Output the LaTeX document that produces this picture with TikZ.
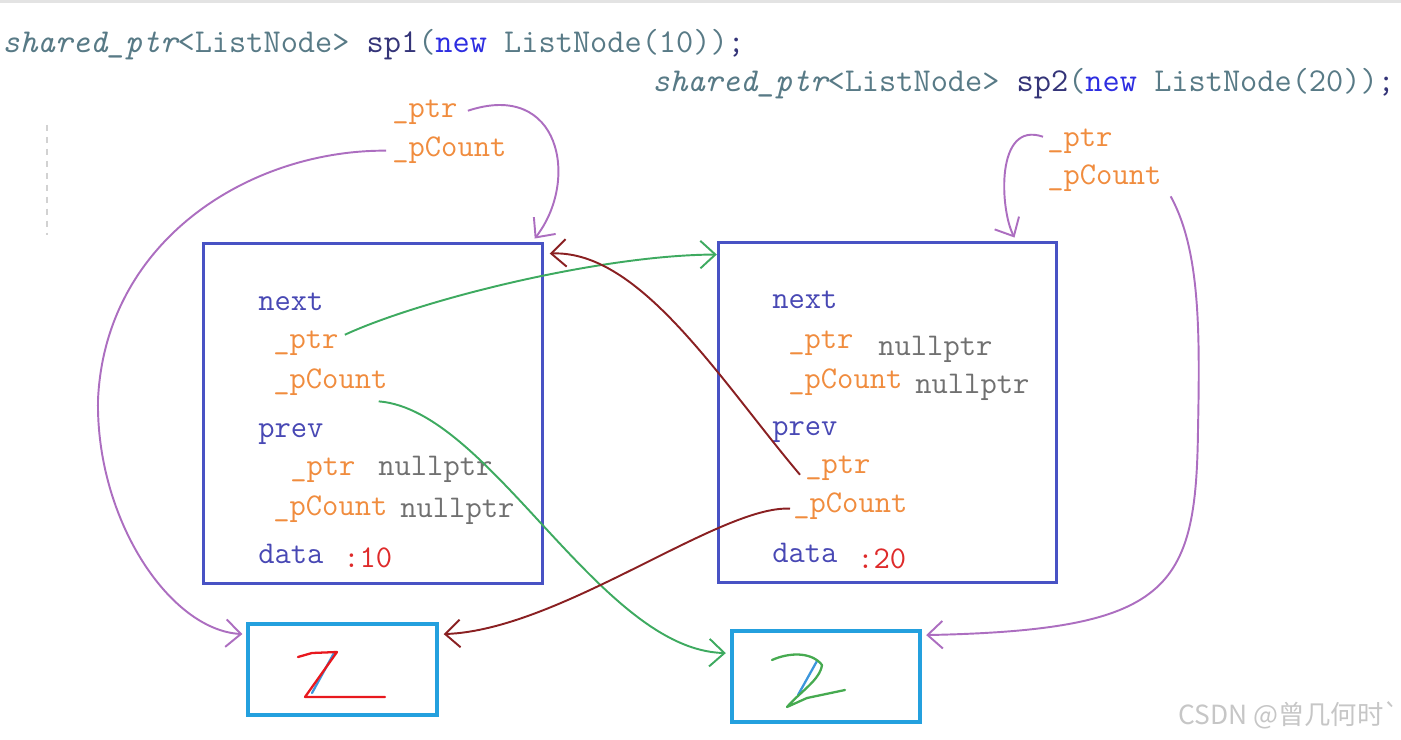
\documentclass[tikz,border=0pt]{standalone}
\usepackage{fontspec}
\newfontfamily\cjkfont{Noto Sans CJK SC}
\usepackage{tikz}
\usetikzlibrary{arrows.meta, positioning, calc}
\definecolor{codeGray}{RGB}{88,122,134}
\definecolor{codeId}{RGB}{52,52,120}
\definecolor{codeKw}{RGB}{45,45,225}
\definecolor{fieldBlue}{RGB}{72,72,180}
\definecolor{ptrOrange}{RGB}{240,140,62}
\definecolor{nullGray}{RGB}{112,112,112}
\definecolor{valRed}{RGB}{222,42,42}
\definecolor{boxBlue}{RGB}{72,82,196}
\definecolor{cntBlue}{RGB}{36,160,222}
\definecolor{refPurple}{RGB}{172,110,192}
\definecolor{refGreen}{RGB}{62,170,96}
\definecolor{refBrown}{RGB}{138,32,34}
\definecolor{penRed}{RGB}{232,24,30}
\definecolor{penGreen}{RGB}{70,170,80}
\definecolor{penBlue}{RGB}{60,150,220}

\begin{document}
\begin{tikzpicture}[
    x=0.02cm, y=-0.02cm,
    code/.style={anchor=base west, inner sep=0pt, text=codeGray,
                 font=\ttfamily\fontsize{19}{20}\selectfont},
    field/.style={anchor=base west, inner sep=0pt,
                  font=\ttfamily\fontsize{18}{20}\selectfont},
    member/.style={field, text=ptrOrange},
    keyw/.style={field, text=fieldBlue},
    nul/.style={field, text=nullGray},
    val/.style={field, text=valRed},
    listbox/.style={draw=boxBlue, line width=1.7pt, inner sep=0pt,
                    minimum width=6.77cm, minimum height=6.82cm},
    cntbox/.style={draw=cntBlue, line width=2.2pt, inner sep=0pt,
                   minimum width=3.77cm, minimum height=1.82cm},
    link/.style={line width=1.1pt,
                 -{Straight Barb[length=3mm,width=5.5mm]}}
]
\useasboundingbox (0,0) rectangle (1401,740);
\fill[gray!22] (0,0) rectangle (1401,3);
\draw[gray!35, line width=1pt, dash pattern=on 3.4pt off 3.4pt] (47,125) -- (47,235);

% code lines
\node[code] (line1) at (2,53)
  {{\itshape shared\_ptr}<ListNode> \textcolor{codeId}{sp1}(\textcolor{codeKw}{new} ListNode(10))\textcolor{codeId}{;}};
\node[code] (line2) at (652,92)
  {{\itshape shared\_ptr}<ListNode> \textcolor{codeId}{sp2}(\textcolor{codeKw}{new} ListNode(20))\textcolor{codeId}{;}};

% smart pointer members
\node[member] (sp1-ptr) at (392,118) {\_ptr};
\node[member] (sp1-cnt) at (392,157) {\_pCount};
\node[member] (sp2-ptr) at (1047,147) {\_ptr};
\node[member] (sp2-cnt) at (1047,185) {\_pCount};

% LEFT --- ListNode(10)
\node[listbox] (A) at (373,413.5) {};
\node[keyw]   (A-next) at (258,310) {next};
\node[member] (A-nptr) at (273,348) {\_ptr};
\node[member] (A-ncnt) at (273,388) {\_pCount};
\node[keyw]   (A-prev) at (258,437) {prev};
\node[member] (A-pptr) at (290,475) {\_ptr};
\node[nul]    (A-pptr-v) at (378,475) {nullptr};
\node[member] (A-pcnt) at (273,515) {\_pCount};
\node[nul]    (A-pcnt-v) at (400,517) {nullptr};
\node[keyw]   (A-data) at (258,563) {data};
\node[val]    (A-data-v) at (343,567) {:10};

% RIGHT --- ListNode(20)
\node[listbox] (B) at (887.5,412.5) {};
\node[keyw]   (B-next) at (772,308) {next};
\node[member] (B-nptr) at (788,348) {\_ptr};
\node[nul]    (B-nptr-v) at (878,355) {nullptr};
\node[member] (B-ncnt) at (788,388) {\_pCount};
\node[nul]    (B-ncnt-v) at (915,393) {nullptr};
\node[keyw]   (B-prev) at (772,435) {prev};
\node[member] (B-pptr) at (805,473) {\_ptr};
\node[member] (B-pcnt) at (793,512) {\_pCount};
\node[keyw]   (B-data) at (772,562) {data};
\node[val]    (B-data-v) at (857,568) {:20};

% reference counters
\node[cntbox] (cA) at (342.5,669.5) {};
\node[cntbox] (cB) at (826,676.5) {};

% handwritten counts
\draw[penBlue, line width=1.3pt, line cap=round] (334,653) -- (312,693);
\draw[penRed, line width=1.3pt, line join=round, line cap=round]
  (298,657) -- (312,653) -- (337,652) -- (305,697) -- (385,697);
\draw[penBlue, line width=1.3pt, line cap=round] (817,661) -- (798,695);
\draw[penGreen, line width=1.3pt, line join=round, line cap=round]
  (772,660) .. controls (790,652) and (812,652) .. (822,665)
  .. controls (820,680) and (800,692) .. (787,707)
  -- (807,698) -- (845,690);

% sp1 / sp2 into the nodes and counters
\draw[link, refPurple] ($(sp1-ptr.east)+(10,-2)$)
  .. controls (560,80) and (580,180) .. ($(A.north east)+(-9,-3)$);
\draw[link, refPurple] ($(sp1-cnt.west)+(-6,0)$)
  .. controls (250,150) and (105,240) .. (98,400)
  .. controls (96,520) and (170,630) .. ($(cA.north west)+(-4,12)$);
\draw[link, refPurple] ($(sp2-ptr.west)+(-4,-5)$)
  .. controls (995,120) and (1000,210) .. ($(B.north)+(127,-3)$);
\draw[link, refPurple] ($(sp2-cnt.south east)+(9,4)$)
  .. controls (1200,250) and (1200,330) .. (1198,430)
  .. controls (1196,590) and (1170,630) .. ($(cB.north east)+(4,6)$);

% next links of node 10
\draw[link, refGreen] ($(A-nptr.east)+(6,-8)$)
  .. controls (420,300) and (600,255) .. ($(B.north west)+(0,14)$);
\draw[link, refGreen] ($(A-ncnt.south east)+(-9,6)$)
  .. controls (490,410) and (600,650) .. ($(cB.north west)+(-4,24)$);

% prev links of node 20
\draw[link, refBrown] ($(B-pptr.west)+(-5,7)$)
  .. controls (720,380) and (640,250) .. ($(A.north east)+(6,12)$);
\draw[link, refBrown] ($(B-pcnt.west)+(-3,3)$)
  .. controls (720,505) and (560,630) .. ($(cA.north east)+(5,12)$);

\node[anchor=base west, inner sep=0pt, text=gray!45,
      font=\cjkfont\fontsize{15}{16}\selectfont] (mark) at (1178,724) {CSDN @曾几何时`};
\end{tikzpicture}
\end{document}
